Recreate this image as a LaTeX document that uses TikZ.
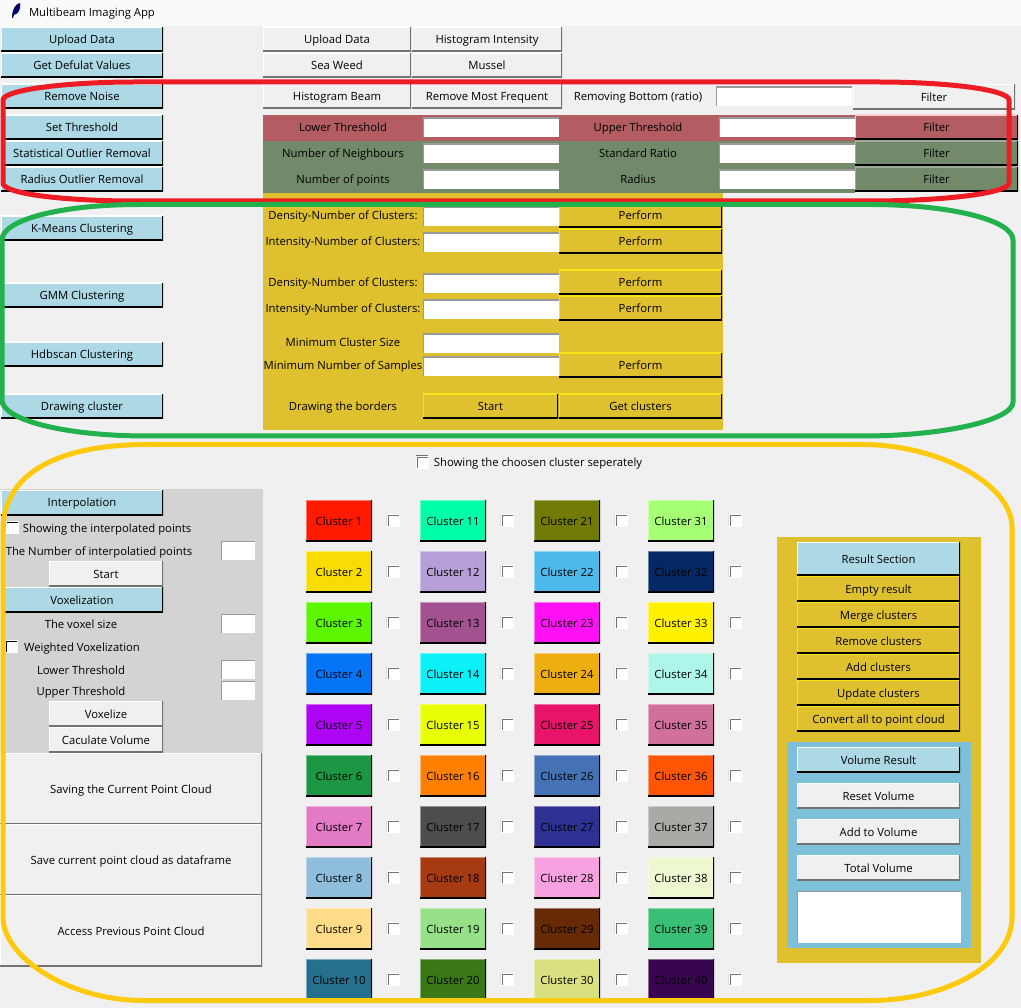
\documentclass[tikz,border=0pt]{standalone}
\usepackage{fontspec}
\setmainfont{Open Sans}
\definecolor{bgcol}{HTML}{F0F0F0}
\definecolor{barcol}{HTML}{FAFAFA}
\definecolor{blucol}{HTML}{ADD8E6}
\definecolor{redcol}{HTML}{B35C62}
\definecolor{grncol}{HTML}{738A6A}
\definecolor{goldcol}{HTML}{DFC12F}
\definecolor{grycol}{HTML}{D3D3D3}
\definecolor{volcol}{HTML}{7EC0D9}
\definecolor{ovalred}{HTML}{ED1C24}
\definecolor{ovalgrn}{HTML}{22B14C}
\definecolor{ovalyel}{HTML}{FFC90E}
\tikzset{
  base/.style={inner sep=0pt,outer sep=0pt,text height=9pt,text depth=0pt,font=\fontsize{11.3}{13}\selectfont,text=black},
  w/.style={minimum width=#1pt},
  h/.style={minimum height=#1pt},
  raised/.style 2 args={base,h=25,path picture={
    \draw[#1,line width=2pt] (path picture bounding box.south west) -- (path picture bounding box.north west) -- (path picture bounding box.north east);
    \draw[#2,line width=3pt] (path picture bounding box.south west) -- (path picture bounding box.south east) -- (path picture bounding box.north east);}},
  bluebtn/.style={raised={white}{black},fill=blucol},
  graybtn/.style={raised={white}{black!55},fill=bgcol},
  goldbtn/.style={raised={yellow!70!goldcol}{black},fill=goldcol},
  redbtn/.style={raised={red!20!white}{black},fill=redcol},
  grnbtn/.style={raised={grncol!70!white}{black},fill=grncol},
  entry/.style={base,fill=white,h=19,path picture={
    \draw[gray!80,line width=2pt] (path picture bounding box.south west) -- (path picture bounding box.north west) -- (path picture bounding box.north east);}},
  chk/.style={base,fill=white,minimum width=12pt,minimum height=12pt,draw=white,line width=.5pt,path picture={
    \draw[black!55,line width=4pt] (path picture bounding box.south west) -- (path picture bounding box.north west) -- (path picture bounding box.north east);}},
  chkblack/.style={chk,path picture={
    \draw[black,line width=2pt] (path picture bounding box.south west) -- (path picture bounding box.north west) -- (path picture bounding box.north east);}},
  lbl/.style={base},
  oval/.style={line width=5pt}
}
\begin{document}
\begin{tikzpicture}[x=1pt,y=-1pt]
\useasboundingbox (0,0) rectangle (1021,1008);
\fill[bgcol] (0,0) rectangle (1021,1008);
\fill[barcol] (0,0) rectangle (1021,26);
\fill[blue!45!black] (12,18) .. controls (12,10) and (15,4) .. (20,3) .. controls (21,8) and (19,14) .. (14,15) -- (13,18) -- cycle;
\node[lbl,anchor=west] (title) at (29,12) {Multibeam Imaging App};

% panels
\fill[redcol] (263,115) rectangle (560,141);
\fill[grncol] (263,141) rectangle (560,193);
\fill[grncol] (560,141) rectangle (855,193);
\fill[redcol] (560,115) rectangle (855,141);
\fill[goldcol] (263,193) rectangle (723,430);
\fill[grycol] (1,489) rectangle (263,753);
\fill[goldcol] (777,537) rectangle (981,963);
\fill[volcol] (787,742) rectangle (971,948);

% left buttons
\node[bluebtn,w=162] (upload) at (82,39.5) {Upload Data};
\node[bluebtn,w=162] (defaults) at (82,65.5) {Get Defulat Values};
\node[bluebtn,w=162] (noise) at (82,96.5) {Remove Noise};
\node[bluebtn,w=162] (thresh) at (82,127.5) {Set Threshold};
\node[bluebtn,w=162] (statout) at (82,153.5) {Statistical Outlier Removal};
\node[bluebtn,w=162] (radout) at (82,179.5) {Radius Outlier Removal};
\node[bluebtn,w=162] (kmeans) at (82,228.5) {K-Means Clustering};
\node[bluebtn,w=162] (gmm) at (82,295.5) {GMM Clustering};
\node[bluebtn,w=162] (hdb) at (82,354.5) {Hdbscan Clustering};
\node[bluebtn,w=162] (drawcl) at (82,406.5) {Drawing cluster};

% top rows
\node[graybtn,w=148] (upload2) at (337,39.5) {Upload Data};
\node[graybtn,w=150] (histint) at (487,39.5) {Histogram Intensity};
\node[graybtn,w=148] (seaweed) at (337,65.5) {Sea Weed};
\node[graybtn,w=150] (mussel) at (487,65.5) {Mussel};
\node[graybtn,w=148] (histbeam) at (337,96.5) {Histogram Beam};
\node[graybtn,w=150] (mostfreq) at (487,96.5) {Remove Most Frequent};
\node[lbl] (ratio) at (638,96.5) {Removing Bottom (ratio)};
\node[entry,w=136] (ratioin) at (784,96.5) {};
\node[graybtn,w=162] (filt0) at (934,97) {Filter};

% filter rows
\node[lbl] (lowlbl) at (343,127.5) {Lower Threshold};
\node[entry,w=136] (lowin) at (491,127.5) {};
\node[lbl] (uplbl) at (638,127.5) {Upper Threshold};
\node[entry,w=136] (upin) at (787,127.5) {};
\node[redbtn,w=163] (filt1) at (936.5,127.5) {Filter};
\node[lbl] (neighlbl) at (343,153.5) {Number of Neighbours};
\node[entry,w=136] (neighin) at (491,153.5) {};
\node[lbl] (ratiolbl) at (638,153.5) {Standard Ratio};
\node[entry,w=136] (ratin) at (787,153.5) {};
\node[grnbtn,w=163] (filt2) at (936.5,153.5) {Filter};
\node[lbl] (numlbl) at (343,179.5) {Number of points};
\node[entry,w=136] (numin) at (491,179.5) {};
\node[lbl] (radlbl) at (638,179.5) {Radius};
\node[entry,w=136] (radin) at (787,179.5) {};
\node[grnbtn,w=163] (filt3) at (936.5,179.5) {Filter};

% clustering rows
\node[lbl] (dens1) at (343,215.5) {Density-Number of Clusters:};
\node[entry,w=136] (dens1in) at (491,216.5) {};
\node[goldbtn,w=163] (perf1) at (640.5,215.5) {Perform};
\node[lbl] (int1) at (343,241.5) {Intensity-Number of Clusters:};
\node[entry,w=136] (int1in) at (491,242.5) {};
\node[goldbtn,w=163] (perf2) at (640.5,241.5) {Perform};
\node[lbl] (dens2) at (343,282.5) {Density-Number of Clusters:};
\node[entry,w=136] (dens2in) at (491,283.5) {};
\node[goldbtn,w=163] (perf3) at (640.5,282.5) {Perform};
\node[lbl] (int2) at (343,308.5) {Intensity-Number of Clusters:};
\node[entry,w=136] (int2in) at (491,309.5) {};
\node[goldbtn,w=163] (perf4) at (640.5,308.5) {Perform};
\node[lbl] (minsize) at (343,342.5) {Minimum Cluster Size};
\node[entry,w=136] (minsizein) at (491,343.5) {};
\node[lbl] (minsamp) at (343,365.5) {Minimum Number of Samples};
\node[entry,w=136] (minsampin) at (491,366.5) {};
\node[goldbtn,w=163] (perf5) at (640.5,365.5) {Perform};
\node[lbl] (borders) at (343,406.5) {Drawing the borders};
\node[goldbtn,w=135] (start1) at (490.5,406.5) {Start};
\node[goldbtn,w=163] (getcl) at (640.5,406.5) {Get clusters};

\node[chk] (showchk) at (422,462) {};
\node[lbl] (showlbl) at (538,462.5) {Showing the choosen cluster seperately};

% interpolation panel
\node[bluebtn,w=162] (interp) at (82,502.5) {Interpolation};
\node[chkblack] (intchk) at (12,527.5) {};
\node[lbl] (intlbl) at (107,527.5) {Showing the interpolated points};
\node[lbl] (intnum) at (99,550.5) {The Number of interpolatied points};
\node[entry,w=34] (intin) at (238,550.5) {};
\node[graybtn,w=114] (start2) at (106,573.5) {Start};
\node[bluebtn,w=162] (voxel) at (82,599.5) {Voxelization};
\node[lbl] (voxsize) at (81,623.5) {The voxel size};
\node[entry,w=34] (voxin) at (238,623.5) {};
\node[chkblack] (wchk) at (11.5,646.5) {};
\node[lbl] (wlbl) at (82,646.5) {Weighted Voxelization};
\node[lbl] (lowvox) at (81,669.5) {Lower Threshold};
\node[entry,w=34] (lowvoxin) at (238,669.5) {};
\node[lbl] (upvox) at (81,690.5) {Upper Threshold};
\node[entry,w=34] (upvoxin) at (238,690.5) {};
\node[graybtn,w=114] (voxelize) at (106,713.5) {Voxelize};
\node[graybtn,w=114] (calcvol) at (106,739.5) {Caculate Volume};
\node[graybtn,w=262,h=71] (savepc) at (131,788.5) {Saving the Current Point Cloud};
\node[graybtn,w=262,h=71] (savedf) at (131,859.5) {Save current point cloud as dataframe};
\node[graybtn,w=262,h=71] (access) at (131,930.5) {Access Previous Point Cloud};

% cluster grid
\foreach \n/\col in {1/FF1A00,2/FADC05,3/5CF600,4/0575F8,5/AE05F5,6/1B9743,7/E27AC5,8/8FBEDC,9/FFDD88,10/26708F,
  11/00FFAA,12/B69FD6,13/A35290,14/0CF0F8,15/E8FF05,16/FF8000,17/4D4D4D,18/A63A12,19/96E088,20/397815,
  21/707A05,22/4DB9EA,23/FF10F5,24/EFAE10,25/E8146A,26/4572B5,27/2E3192,28/F7A1E0,29/662A05,30/D9E080,
  31/A6FF75,32/032863,33/FFF200,34/AEF5EA,35/D2709C,36/FF5505,37/ABA9A5,38/EEF8D0,39/39C076,40/3A0550} {
  \definecolor{cl\n}{HTML}{\col}
  \pgfmathtruncatemacro{\cidx}{(\n-1)/10}
  \pgfmathtruncatemacro{\ridx}{\n-1-10*\cidx}
  \node[raised={cl\n!60!white}{black},fill=cl\n,w=66,h=41] (c\n) at (339+114*\cidx,520.5+51*\ridx) {Cluster \n};
  \node[chk] (k\n) at (392.8+114*\cidx,520+51*\ridx) {};
}

% result section
\node[bluebtn,w=163,h=33] (result) at (878.5,558.5) {Result Section};
\node[goldbtn,w=163] (empty) at (878.5,588.5) {Empty result};
\node[goldbtn,w=163] (merge) at (878.5,614.5) {Merge clusters};
\node[goldbtn,w=163] (remove) at (878.5,640.5) {Remove clusters};
\node[goldbtn,w=163] (addcl) at (878.5,666.5) {Add clusters};
\node[goldbtn,w=163] (update) at (878.5,692.5) {Update clusters};
\node[goldbtn,w=163] (convert) at (878.5,718.5) {Convert all to point cloud};
\node[bluebtn,w=163] (volres) at (878.5,759.5) {Volume Result};
\node[graybtn,w=163] (reset) at (878.5,795.5) {Reset Volume};
\node[graybtn,w=163] (addvol) at (878.5,831.5) {Add to Volume};
\node[graybtn,w=163] (total) at (878.5,867.5) {Total Volume};
\node[entry,w=164,h=52] (volbox) at (879,917) {};

% hand drawn rings
\draw[oval,ovalred] (3,100) .. controls (3,90) and (65,82) .. (135,82) -- (878,82) .. controls (950,82) and (1009,90) .. (1009,100) -- (1009,183) .. controls (1009,193) and (945,201) .. (870,201) -- (135,201) .. controls (65,201) and (3,194) .. (3,183) -- cycle;
\draw[oval,ovalgrn] (2,240) .. controls (2,220) and (60,204.5) .. (140,204.5) -- (870,204.5) .. controls (950,204.5) and (1013,220) .. (1013,240) -- (1013,402) .. controls (1013,420) and (945,436) .. (862,436) -- (147,436) .. controls (65,436) and (2,420) .. (2,400) -- cycle;
\draw[oval,ovalyel] (3,530) .. controls (3,475) and (55,444.5) .. (148,444.5) -- (862,444.5) .. controls (940,444.5) and (1012,485) .. (1012,527) -- (1012,917) .. controls (1012,965) and (945,1000.5) .. (870,1000.5) -- (143,1000.5) .. controls (70,1000.5) and (3,958) .. (3,917) -- cycle;
\end{tikzpicture}
\end{document}
